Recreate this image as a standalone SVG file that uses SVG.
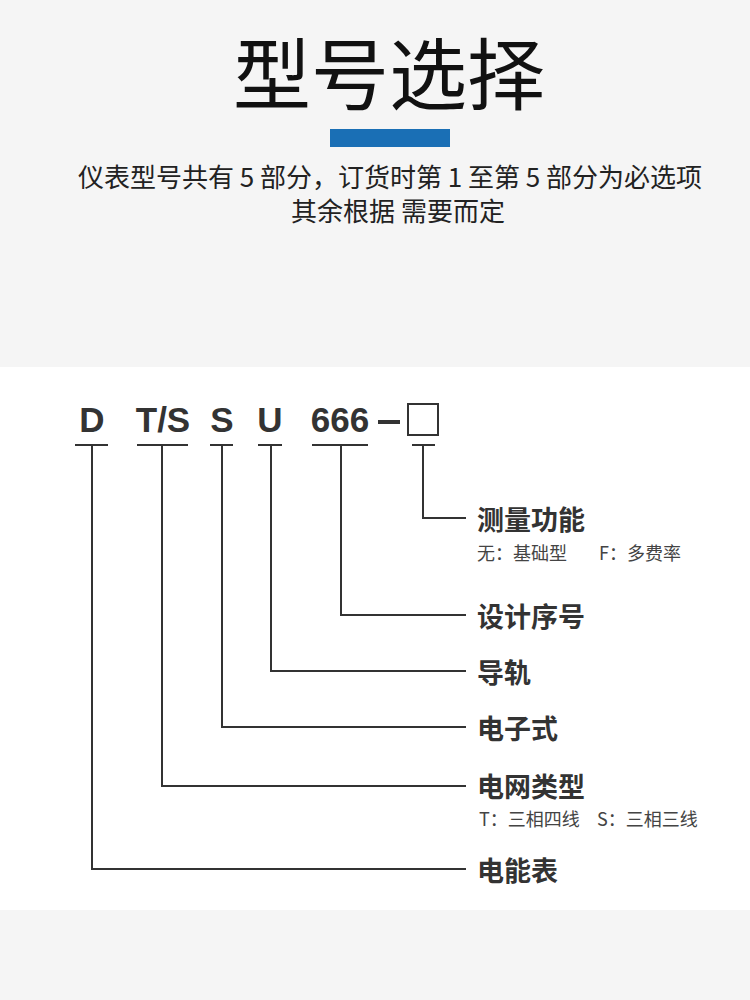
<svg xmlns="http://www.w3.org/2000/svg" width="750" height="1000" viewBox="0 0 750 1000">
<style>
.cjk{font-family:"Noto Sans CJK SC","Noto Sans",sans-serif}
.code{font-family:"Liberation Sans",Arial,sans-serif;font-weight:bold;font-size:35px;fill:#333}
.lbl{font-family:"Noto Sans CJK SC",sans-serif;font-weight:bold;font-size:27px;fill:#333}
.sub{font-family:"Noto Sans CJK SC",sans-serif;font-size:18px;fill:#444}
.ln{stroke:#333;stroke-width:2;fill:none}
</style>
<rect x="0" y="0" width="750" height="1000" fill="#f5f5f5"/>
<rect x="0" y="367" width="750" height="543" fill="#ffffff"/>
<g id="header">
<text x="389" y="104" text-anchor="middle" class="cjk" font-size="78" fill="#111">型号选择</text>
<rect x="330" y="129" width="120" height="18" fill="#1a6fb5"/>
<text x="390" y="187" text-anchor="middle" class="cjk" font-size="26" fill="#222">仪表型号共有 5 部分，订货时第 1 至第 5 部分为必选项</text>
<text x="398" y="221" text-anchor="middle" class="cjk" font-size="26" fill="#222">其余根据 需要而定</text>
</g>
<g id="codes">
<text x="92" y="432" text-anchor="middle" class="code">D</text>
<text x="163" y="432" text-anchor="middle" class="code">T/S</text>
<text x="222" y="432" text-anchor="middle" class="code">S</text>
<text x="270" y="432" text-anchor="middle" class="code">U</text>
<text x="340" y="432" text-anchor="middle" class="code">666</text>
<rect x="378" y="420" width="22" height="4" fill="#333"/>
<rect x="408" y="404" width="30" height="31" fill="none" stroke="#333" stroke-width="2"/>
</g>
<g id="connectors">
<line class="ln" x1="75" y1="445" x2="108" y2="445"/>
<line class="ln" x1="137" y1="445" x2="188" y2="445"/>
<line class="ln" x1="210" y1="445" x2="233" y2="445"/>
<line class="ln" x1="258" y1="445" x2="282" y2="445"/>
<line class="ln" x1="312" y1="445" x2="368" y2="445"/>
<line class="ln" x1="412" y1="445" x2="435" y2="445"/>
<polyline class="ln" points="423,445 423,518 466,518"/>
<polyline class="ln" points="341,445 341,615 466,615"/>
<polyline class="ln" points="271,445 271,671 466,671"/>
<polyline class="ln" points="222,445 222,727 466,727"/>
<polyline class="ln" points="162,445 162,786 466,786"/>
<polyline class="ln" points="92,445 92,869 466,869"/>
</g>
<g id="node-measure">
<text x="477" y="530" class="lbl">测量功能</text>
<text x="477" y="560" class="sub">无：基础型</text>
<text x="599" y="560" class="sub">F：多费率</text>
</g>
<g id="node-design"><text x="477" y="627" class="lbl">设计序号</text></g>
<g id="node-rail"><text x="477" y="683" class="lbl">导轨</text></g>
<g id="node-electronic"><text x="477" y="739" class="lbl">电子式</text></g>
<g id="node-grid">
<text x="477" y="797" class="lbl">电网类型</text>
<text x="479" y="826" class="sub">T：三相四线</text>
<text x="597" y="826" class="sub">S：三相三线</text>
</g>
<g id="node-meter"><text x="477" y="881" class="lbl">电能表</text></g>
</svg>
